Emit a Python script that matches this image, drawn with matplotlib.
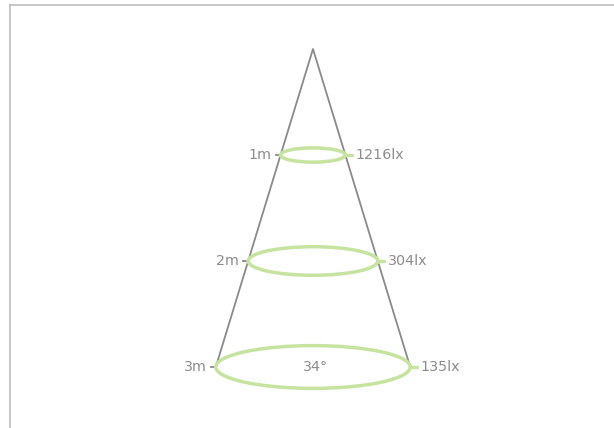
import matplotlib
matplotlib.use("Agg")
import matplotlib.pyplot as plt
from matplotlib.patches import Ellipse
from matplotlib.lines import Line2D
import numpy as np

# beam data
distances = [1, 2, 3]
dist_labels = ["1m", "2m", "3m"]
lux_labels = ["1216lx", "304lx", "135lx"]
beam_angle = 34

green = "#c6e39f"
grey = "#8a8a8a"
txt = "#8c8c8c"

fig = plt.figure(figsize=(6.14, 4.28), dpi=100)
ax = fig.add_axes([0, 0, 1, 1])
ax.set_xlim(-2.953, 2.840)
ax.set_ylim(3.575, -0.462)
ax.set_aspect("equal")
ax.axis("off")

half = np.tan(np.radians(beam_angle / 2))
dmax = max(distances)

# cone
ax.plot([-half * dmax, 0, half * dmax], [dmax, 0, dmax], color=grey, lw=1.3, zorder=1)

for d, dl, ll in zip(distances, dist_labels, lux_labels):
    r = half * d
    ax.add_patch(Ellipse((0, d), 2 * r, 0.44 * r, fill=False, ec=green, lw=2.5, zorder=2))
    ax.plot([-r - 0.045, -r], [d, d], color=grey, lw=1.3, zorder=1)
    ax.plot([r, r + 0.06], [d, d], color=green, lw=2.5, solid_capstyle="round", zorder=2)
    ax.text(-r - 0.085, d, dl, ha="right", va="center", color=txt, fontsize=10.3)
    ax.text(r + 0.095, d, ll, ha="left", va="center", color=txt, fontsize=10.3)

ax.text(0.02, dmax, f"{beam_angle}°", ha="center", va="center", color=txt, fontsize=10.3)

# frame
fig.add_artist(Line2D([10 / 614, 10 / 614], [0, 1 - 5 / 428], color="#bdbdbd", lw=1.2))
fig.add_artist(Line2D([10 / 614, 1], [1 - 5 / 428, 1 - 5 / 428], color="#bdbdbd", lw=1.2))

fig.savefig("out.png", dpi=100, facecolor="white")
